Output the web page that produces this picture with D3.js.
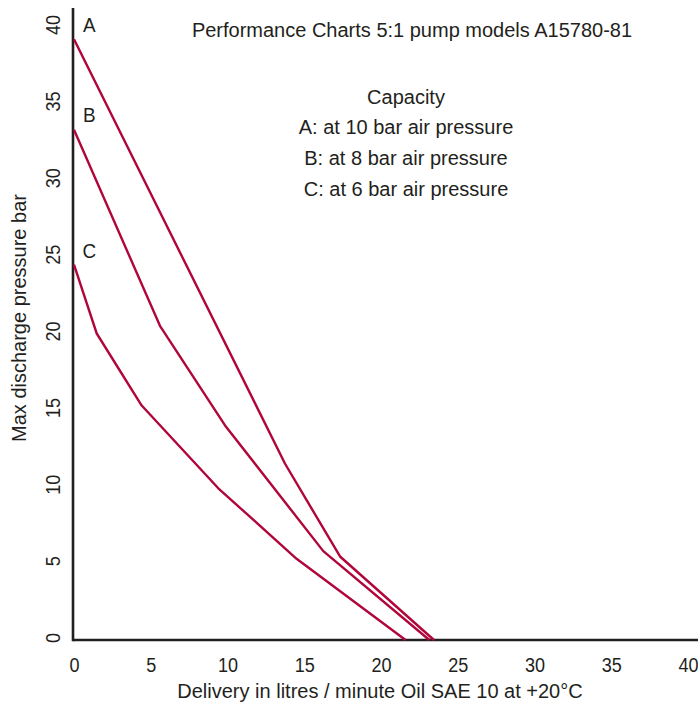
<!DOCTYPE html>
<html>
<head>
<meta charset="utf-8">
<script src="https://cdn.jsdelivr.net/npm/d3@7"></script>
<style>
  html, body { margin: 0; padding: 0; background: #ffffff; }
  svg { display: block; font-family: "Liberation Sans", Arial, Helvetica, sans-serif; }
</style>
</head>
<body>
<div id="chart"></div>
<script>
// ---- Data ----
const xTicks = [0, 5, 10, 15, 20, 25, 30, 35, 40];
const yTicks = [0, 5, 10, 15, 20, 25, 30, 35, 40];

const seriesNames = ["A", "B", "C"];
// Delivery (l/min) and max discharge pressure (bar) per curve
const deliveryA = [0, 13.75, 17.33, 23.45];
const pressureA = [39.2, 11.5, 5.45, 0];
const deliveryB = [0, 5.6, 9.84, 16.24, 23.15];
const pressureB = [33.3, 20.5, 14.0, 5.8, 0];
const deliveryC = [0, 1.48, 4.41, 9.4, 14.5, 21.6];
const pressureC = [24.5, 20.0, 15.3, 9.9, 5.3, 0];
// curve label anchor (x value, y value)
const labelX = [1, 1, 1];
const labelY = [40.2, 34.3, 25.4];

const titleText = "Performance Charts 5:1 pump models A15780-81";
const legendLines = ["Capacity", "A: at 10 bar air pressure", "B: at 8 bar air pressure", "C: at 6 bar air pressure"];
const xTitle = "Delivery in litres / minute Oil SAE 10 at +20°C";
const yTitle = "Max discharge pressure bar";

// ---- Layout ----
const W = 698, H = 707;
const lineColor = "#b0063a";
const inkColor = "#231f20";

const series = [
  { name: seriesNames[0], pts: deliveryA.map((d, i) => [d, pressureA[i]]) },
  { name: seriesNames[1], pts: deliveryB.map((d, i) => [d, pressureB[i]]) },
  { name: seriesNames[2], pts: deliveryC.map((d, i) => [d, pressureC[i]]) }
];

const x = d3.scaleLinear().domain([0, 40]).range([74, 688]);
const y = d3.scaleLinear().domain([0, 40]).range([640, 27]);

const svg = d3.select("#chart").append("svg")
  .attr("width", W).attr("height", H)
  .attr("viewBox", `0 0 ${W} ${H}`);

svg.append("rect").attr("width", W).attr("height", H).attr("fill", "#fff");

// X axis (labels only, via d3 axis)
const gx = svg.append("g")
  .attr("transform", `translate(0,${y(0)})`)
  .call(d3.axisBottom(x).tickValues(xTicks).tickSize(0).tickPadding(17).tickFormat(d3.format("d")));
gx.select(".domain").remove();
gx.selectAll("text").attr("font-size", 21).attr("fill", inkColor)
  .attr("font-family", "Liberation Sans, Arial, sans-serif")
  .attr("transform", "scale(0.86,1)");

// Y axis (rotated labels)
const gy = svg.append("g")
  .attr("transform", `translate(${x(0)},0)`)
  .call(d3.axisLeft(y).tickValues(yTicks).tickSize(0).tickFormat(d3.format("d")));
gy.select(".domain").remove();
gy.selectAll("text")
  .attr("font-size", 21).attr("fill", inkColor)
  .attr("font-family", "Liberation Sans, Arial, sans-serif")
  .attr("text-anchor", "middle")
  .attr("transform", "rotate(-90) scale(0.86,1)")
  .attr("x", 3).attr("y", -14).attr("dy", 0);

// Axis lines
svg.append("line")
  .attr("x1", x(0) - 1).attr("x2", W)
  .attr("y1", y(0)).attr("y2", y(0))
  .attr("stroke", inkColor).attr("stroke-width", 2.6);
svg.append("line")
  .attr("x1", x(0) - 1).attr("x2", x(0) - 1)
  .attr("y1", y(0) + 1.3).attr("y2", 8)
  .attr("stroke", inkColor).attr("stroke-width", 2.6);

// Curves
const lineGen = d3.line().x(d => x(d[0])).y(d => y(d[1]));
svg.append("g").selectAll("path")
  .data(series).join("path")
  .attr("d", d => lineGen(d.pts))
  .attr("fill", "none")
  .attr("stroke", lineColor)
  .attr("stroke-width", 2.4)
  .attr("stroke-linejoin", "round");

// Curve labels
svg.append("g").selectAll("text")
  .data(seriesNames).join("text")
  .attr("transform", (d, i) => `translate(${x(labelX[i])},${y(labelY[i])}) scale(0.9,1)`)
  .attr("dy", "0.36em")
  .attr("text-anchor", "middle")
  .attr("font-size", 21)
  .attr("fill", inkColor)
  .text(d => d);

// Title
svg.append("text")
  .attr("x", 412).attr("y", 37)
  .attr("text-anchor", "middle")
  .attr("font-size", 20)
  .attr("fill", inkColor)
  .text(titleText);

// Legend block
svg.append("g").selectAll("text")
  .data(legendLines).join("text")
  .attr("x", 406)
  .attr("y", (d, i) => 103.5 + i * 30.7)
  .attr("text-anchor", "middle")
  .attr("font-size", 20)
  .attr("fill", inkColor)
  .text(d => d);

// Axis titles
svg.append("text")
  .attr("x", 380).attr("y", 698)
  .attr("text-anchor", "middle")
  .attr("font-size", 20)
  .attr("fill", inkColor)
  .text(xTitle);

svg.append("text")
  .attr("transform", `translate(26,318) rotate(-90)`)
  .attr("text-anchor", "middle")
  .attr("font-size", 20)
  .attr("fill", inkColor)
  .text(yTitle);
</script>
</body>
</html>
